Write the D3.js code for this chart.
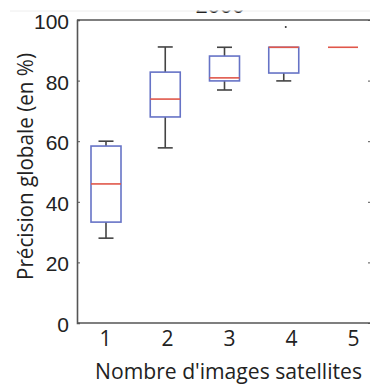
<!DOCTYPE html>
<html>
<head>
<meta charset="utf-8">
<script src="https://cdn.jsdelivr.net/npm/d3@7"></script>
<style>
  body { margin: 0; background: #fff; }
  svg { display: block; }
</style>
</head>
<body>
<div class="vis-box"></div>
<script>
// data
const categories = [1, 2, 3, 4, 5];
const whiskerLow = [28, 57.8, 76.9, 79.9, 91];
const q1 = [33.3, 68, 79.9, 82.5, 91];
const medians = [45.9, 73.9, 80.9, 91, 91];
const q3 = [58.4, 82.8, 88.1, 91, 91];
const whiskerHigh = [60, 91.1, 91, 91, 91];
const outliers = [[], [], [], [97.7], []];
const yTicks = [0, 20, 40, 60, 80, 100];

const width = 370;
const height = 384;

const svg = d3
  .select(".vis-box")
  .append("svg")
  .attr("width", width)
  .attr("height", height);

const yScale = d3.scaleLinear().domain([0, 100]).range([323, 20]);
// box positions and tick labels are slightly offset in the source image
const xScale = d3.scaleLinear().domain([1, 5]).range([106, 343]);
const xLabelScale = d3.scaleLinear().domain([1, 5]).range([105, 353]);

const axisColor = "#555";
const left = 77;
const labelFont = "Open Sans, DejaVu Sans, sans-serif";

// title, mostly cropped out at the top
svg
  .append("text")
  .attr("x", 220)
  .attr("y", 13)
  .attr("text-anchor", "middle")
  .attr("font-family", "Liberation Sans, Arial, sans-serif")
  .attr("font-size", 22)
  .attr("fill", "#222")
  .text("2000");
svg.append("rect").attr("x", 0).attr("y", 0).attr("width", width).attr("height", 10.5).attr("fill", "#fff");
svg
  .append("line")
  .attr("x1", 10)
  .attr("x2", width)
  .attr("y1", 11)
  .attr("y2", 11)
  .attr("stroke", "#eee")
  .attr("stroke-width", 1);

// y axis (left), ticks inward
const yAxis = svg
  .append("g")
  .attr("transform", `translate(${left},0)`)
  .call(d3.axisLeft(yScale).tickValues(yTicks).tickSize(-3).tickPadding(8));
yAxis.select(".domain").attr("stroke", axisColor).attr("stroke-width", 1.6);
yAxis.selectAll(".tick line").attr("stroke", axisColor);
yAxis
  .selectAll(".tick text")
  .attr("font-family", "Liberation Sans, Arial, sans-serif")
  .attr("font-size", 21)
  .attr("fill", "#222")
  .attr("dy", "0.4em");

// right axis, only its ticks peek in at the edge
const yRight = svg
  .append("g")
  .attr("transform", `translate(${width + 1},0)`)
  .call(d3.axisRight(yScale).tickValues(yTicks).tickSize(-3).tickFormat(""));
yRight.selectAll(".tick line").attr("stroke", axisColor);
yRight.select(".domain").attr("stroke", axisColor);

// x axis
const xAxis = svg
  .append("g")
  .attr("transform", `translate(0,${yScale(0)})`)
  .call(
    d3
      .axisBottom(xLabelScale)
      .tickValues(categories)
      .tickFormat(d3.format("d"))
      .tickSize(0)
      .tickPadding(8)
  );
xAxis.select(".domain").remove();
xAxis
  .selectAll(".tick text")
  .attr("font-family", labelFont)
  .attr("font-size", 21)
  .attr("fill", "#222");

// frame lines
svg
  .append("line")
  .attr("x1", left)
  .attr("x2", width)
  .attr("y1", yScale(0))
  .attr("y2", yScale(0))
  .attr("stroke", axisColor)
  .attr("stroke-width", 1.6);
svg
  .append("line")
  .attr("x1", left)
  .attr("x2", width)
  .attr("y1", yScale(100))
  .attr("y2", yScale(100))
  .attr("stroke", axisColor)
  .attr("stroke-width", 1.6);

// axis titles
svg
  .append("text")
  .attr("x", 228.5)
  .attr("y", 379)
  .attr("text-anchor", "middle")
  .attr("font-family", labelFont)
  .attr("font-size", 21)
  .attr("textLength", 267)
  .attr("lengthAdjust", "spacingAndGlyphs")
  .attr("fill", "#222")
  .text("Nombre d'images satellites");

svg
  .append("text")
  .attr("transform", "translate(33,166.5) rotate(-90)")
  .attr("text-anchor", "middle")
  .attr("font-family", labelFont)
  .attr("font-size", 21)
  .attr("textLength", 227)
  .attr("lengthAdjust", "spacingAndGlyphs")
  .attr("fill", "#222")
  .text("Précision globale (en %)");

// boxes
const boxW = 30;
const capW = 15;
const boxes = categories.map((c, i) => ({
  c,
  lo: whiskerLow[i],
  q1: q1[i],
  med: medians[i],
  q3: q3[i],
  hi: whiskerHigh[i],
  out: outliers[i],
}));

const gs = svg
  .append("g")
  .selectAll("g")
  .data(boxes)
  .enter()
  .append("g")
  .attr("transform", (d) => `translate(${xScale(d.c)},0)`);

const whiskerColor = "#444";
// whiskers
gs.filter((d) => d.hi > d.q3)
  .append("line")
  .attr("y1", (d) => yScale(d.hi))
  .attr("y2", (d) => yScale(d.q3))
  .attr("stroke", whiskerColor)
  .attr("stroke-width", 1.6);
gs.filter((d) => d.lo < d.q1)
  .append("line")
  .attr("y1", (d) => yScale(d.lo))
  .attr("y2", (d) => yScale(d.q1))
  .attr("stroke", whiskerColor)
  .attr("stroke-width", 1.6);
// caps
gs.filter((d) => d.hi > d.med)
  .append("line")
  .attr("x1", -capW / 2)
  .attr("x2", capW / 2)
  .attr("y1", (d) => yScale(d.hi))
  .attr("y2", (d) => yScale(d.hi))
  .attr("stroke", whiskerColor)
  .attr("stroke-width", 1.6);
gs.filter((d) => d.lo < d.med)
  .append("line")
  .attr("x1", -capW / 2)
  .attr("x2", capW / 2)
  .attr("y1", (d) => yScale(d.lo))
  .attr("y2", (d) => yScale(d.lo))
  .attr("stroke", whiskerColor)
  .attr("stroke-width", 1.6);
// box
gs.filter((d) => d.q3 > d.q1)
  .append("rect")
  .attr("x", -boxW / 2)
  .attr("width", boxW)
  .attr("y", (d) => yScale(d.q3))
  .attr("height", (d) => yScale(d.q1) - yScale(d.q3))
  .attr("fill", "none")
  .attr("stroke", "#6673c6")
  .attr("stroke-width", 1.6);
// median
gs.append("line")
  .attr("x1", -boxW / 2)
  .attr("x2", boxW / 2)
  .attr("y1", (d) => yScale(d.med))
  .attr("y2", (d) => yScale(d.med))
  .attr("stroke", "#e0574a")
  .attr("stroke-width", 1.6);
// outliers
gs.selectAll(".out")
  .data((d) => d.out)
  .enter()
  .append("circle")
  .attr("class", "out")
  .attr("cx", 2)
  .attr("cy", (v) => yScale(v))
  .attr("r", 1)
  .attr("fill", "#333");
</script>
</body>
</html>
